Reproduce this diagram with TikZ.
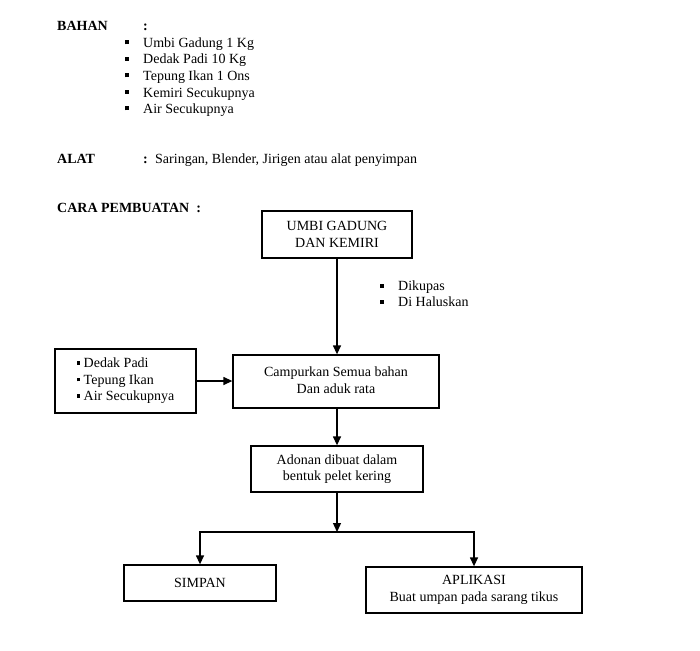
\documentclass[tikz,border=0pt]{standalone}
\usepackage{fontspec}
\setmainfont{Liberation Serif}
\usepackage{tikz}
\usetikzlibrary{arrows.meta}
\newcommand{\titik}{\rule[3pt]{4pt}{4pt}}
\newcommand{\titikkecil}{\rule[3pt]{3.5pt}{3.5pt}}
\newcommand{\judul}[4]{ \node[teks, font=\fontsize{14}{16.5}\selectfont\bfseries] (#1) at ( #2 , #3 ) {#4};}
\newcommand{\butir}[5]{ \node[teks] (#1) at ( #2 , #4 ) {\titik}; \node[teks] (#1t) at ( #3 , #4 ) {#5};}
\tikzset{
  teks/.style={anchor=base west, inner sep=0pt},
  kotak/.style={draw, line width=1.3pt, rectangle, align=center, inner sep=0pt},
  panah/.style={line width=1.3pt, -{Triangle[length=9pt,width=8pt]}},
  garis/.style={line width=1.3pt}
}
\begin{document}
\begin{tikzpicture}[x=1pt, y=-1pt, every node/.style={font=\fontsize{14}{16.5}\selectfont}]
        \useasboundingbox (0,0) rectangle (700,650);
        % bahan
        \judul{bahan}{57}{31}{BAHAN}
        \judul{bahanttk}{143}{31}{:}
        \butir{b1}{125}{143}{47.5}{Umbi Gadung 1 Kg}
        \butir{b2}{125}{143}{64}{Dedak Padi 10 Kg}
        \butir{b3}{125}{143}{80.5}{Tepung Ikan 1 Ons}
        \butir{b4}{125}{143}{97}{Kemiri Secukupnya}
        \butir{b5}{125}{143}{113.5}{Air Secukupnya}
        % alat
        \judul{alat}{57}{163}{ALAT}
        \judul{alatttk}{143}{163}{:}
        \node[teks] (alattks) at (155,163) {Saringan, Blender, Jirigen atau alat penyimpan};
        % cara pembuatan
        \judul{cara}{57}{212}{CARA PEMBUATAN\ \ :}
        \node[kotak, minimum width=150, minimum height=47] (umbi) at (337,234.5) {UMBI GADUNG\\DAN KEMIRI};
        \butir{k1}{380}{398}{290.5}{Dikupas}
        \butir{k2}{380}{398}{306.5}{Di Haluskan}
        \node[kotak, minimum width=206, minimum height=53] (campur) at (336,381.5) {\raisebox{4pt}{\begin{tabular}{@{}c@{}}Campurkan Semua bahan\\Dan aduk rata\end{tabular}}};
        \node[kotak, align=left, minimum width=141, minimum height=64] (kiri) at (125.5,381) {\titikkecil\ Dedak Padi\\\titikkecil\ Tepung Ikan\\\titikkecil\ Air Secukupnya};
        \node[kotak, minimum width=172, minimum height=46] (adonan) at (337,469) {Adonan dibuat dalam\\bentuk pelet kering};
        \coordinate (cabang) at (337,532);
        \node[kotak, minimum width=152, minimum height=36] (simpan) at (200,583) {SIMPAN};
        \node[kotak, minimum width=216, minimum height=46] (aplikasi) at (474,590) {APLIKASI\\Buat umpan pada sarang tikus};
        % panah
        \draw[panah] (umbi.south) -- (umbi.south |- campur.north);
        \draw[panah] (kiri.east) -- (kiri.east -| campur.west);
        \draw[panah] (campur.south -| adonan.north) -- (adonan.north);
        \draw[panah] (adonan.south) -- (cabang);
        \draw[panah] (cabang) -| (simpan.north);
        \draw[panah] (cabang) -| (aplikasi.north);
    \end{tikzpicture}
\end{document}
